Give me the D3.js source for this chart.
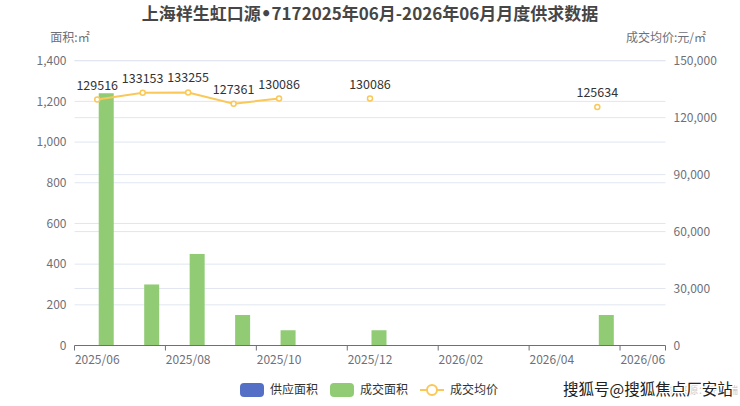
<!DOCTYPE html>
<html>
<head>
<meta charset="utf-8">
<script src="https://cdn.jsdelivr.net/npm/d3@7/dist/d3.min.js"></script>
<style>
  body { margin: 0; background: #fff; }
  text { font-family: "Noto Sans CJK SC", "Noto Sans", sans-serif; }
</style>
</head>
<body>
<div id="chart"></div>
<script>
// 数据
const months = ["2025/06", "2025/07", "2025/08", "2025/09", "2025/10", "2025/11", "2025/12",
                "2026/01", "2026/02", "2026/03", "2026/04", "2026/05", "2026/06"];
const supplyArea = [0, 0, 0, 0, 0, 0, 0, 0, 0, 0, 0, 0, 0];
const dealArea = [1240, 300, 450, 150, 75, 0, 75, 0, 0, 0, 0, 150, 0];
const avgPrice = [129516, 133153, 133255, 127361, 130086, null, 130086, null, null, null, null, 125634, null];
const leftTicks = [0, 200, 400, 600, 800, 1000, 1200, 1400];
const rightTicks = [0, 30000, 60000, 90000, 120000, 150000];
const seriesNames = ["供应面积", "成交面积", "成交均价"];

const W = 740, H = 406;
const plot = {left: 74.5, right: 665.5, top: 60.7, bottom: 345.5};

const svg = d3.select("#chart").append("svg")
    .attr("width", W).attr("height", H);

// 标题
const title = svg.append("text")
    .attr("x", W / 2).attr("y", 20)
    .attr("text-anchor", "middle")
    .style("font-size", "17px").style("font-weight", "bold")
    .attr("fill", "#464646");
title.append("tspan").text("上海祥生虹口源");
title.append("tspan").style("font-family", "DejaVu Sans").text("•");
title.append("tspan").text("7172025年06月-2026年06月月度供求数据");

// 比例尺
const x = d3.scaleBand().domain(months).range([plot.left, plot.right]);
const xInner = d3.scaleBand().domain(["供应面积", "成交面积"])
    .range([0, x.bandwidth()]).paddingInner(1 / 6).paddingOuter(0.346);
const yL = d3.scaleLinear().domain([0, 1400]).range([plot.bottom, plot.top]);
const yR = d3.scaleLinear().domain([0, 150000]).range([plot.bottom, plot.top]);

// 网格线
const grid = svg.append("g");
grid.selectAll(".gl").data(leftTicks.slice(1)).join("line")
    .attr("x1", plot.left).attr("x2", plot.right)
    .attr("y1", d => yL(d)).attr("y2", d => yL(d))
    .attr("stroke", "#e0e6f1");
grid.selectAll(".gr").data(rightTicks.slice(1)).join("line")
    .attr("x1", plot.left).attr("x2", plot.right)
    .attr("y1", d => yR(d)).attr("y2", d => yR(d))
    .attr("stroke", "#e0e6f1");

// 左轴
const fmt = d3.format(",");
svg.append("g").selectAll("text").data(leftTicks).join("text")
    .attr("x", plot.left - 8).attr("y", d => yL(d))
    .attr("dy", "0.35em").attr("text-anchor", "end")
    .attr("fill", "#6e7079").style("font-size", "12px")
    .text(d => fmt(d));
// 右轴
svg.append("g").selectAll("text").data(rightTicks).join("text")
    .attr("x", plot.right + 8).attr("y", d => yR(d))
    .attr("dy", "0.35em").attr("text-anchor", "start")
    .attr("fill", "#6e7079").style("font-size", "12px")
    .text(d => fmt(d));

// 轴名称
svg.append("text").attr("x", 70).attr("y", 42)
    .attr("text-anchor", "middle").attr("fill", "#6e7079")
    .style("font-size", "12px").text("面积:㎡");
svg.append("text").attr("x", 666).attr("y", 42)
    .attr("text-anchor", "middle").attr("fill", "#6e7079")
    .style("font-size", "12px").text("成交均价:元/㎡");

// 柱子
const bars = svg.append("g");
bars.selectAll(".supply").data(months).join("rect")
    .attr("x", d => x(d) + xInner("供应面积"))
    .attr("width", xInner.bandwidth())
    .attr("y", (d, i) => yL(supplyArea[i]))
    .attr("height", (d, i) => plot.bottom - yL(supplyArea[i]))
    .attr("fill", "#5470c6");
bars.selectAll(".deal").data(months).join("rect")
    .attr("x", d => x(d) + xInner("成交面积"))
    .attr("width", xInner.bandwidth())
    .attr("y", (d, i) => yL(dealArea[i]))
    .attr("height", (d, i) => plot.bottom - yL(dealArea[i]))
    .attr("fill", "#91cc75");

// X轴
const xg = svg.append("g");
xg.append("line").attr("x1", plot.left).attr("x2", plot.right)
    .attr("y1", plot.bottom).attr("y2", plot.bottom).attr("stroke", "#6e7079");
const tickIdx = months.map((d, i) => i).filter(i => i % 2 === 0);
xg.selectAll(".tk").data(tickIdx).join("line")
    .attr("x1", i => x(months[i])).attr("x2", i => x(months[i]))
    .attr("y1", plot.bottom).attr("y2", plot.bottom + 5).attr("stroke", "#6e7079");
xg.append("line").attr("x1", plot.right).attr("x2", plot.right)
    .attr("y1", plot.bottom).attr("y2", plot.bottom + 5).attr("stroke", "#6e7079");
xg.selectAll(".lb").data(tickIdx).join("text")
    .attr("x", i => x(months[i]) + x.bandwidth() / 2)
    .attr("y", plot.bottom + 18)
    .attr("text-anchor", "middle").attr("fill", "#6e7079")
    .style("font-size", "12px")
    .text(i => months[i]);

// 均价折线
const pts = months.map((m, i) => ({m, v: avgPrice[i]}));
const line = d3.line()
    .defined(d => d.v != null)
    .x(d => x(d.m) + x.bandwidth() / 2)
    .y(d => yR(d.v));
svg.append("path").datum(pts)
    .attr("d", line).attr("fill", "none")
    .attr("stroke", "#fac858").attr("stroke-width", 2);
const valid = pts.filter(d => d.v != null);
svg.append("g").selectAll("circle").data(valid).join("circle")
    .attr("cx", d => x(d.m) + x.bandwidth() / 2)
    .attr("cy", d => yR(d.v))
    .attr("r", 2.5)
    .attr("fill", "#fff").attr("stroke", "#fac858").attr("stroke-width", 1.5);
svg.append("g").selectAll("text").data(valid).join("text")
    .attr("x", d => x(d.m) + x.bandwidth() / 2)
    .attr("y", d => yR(d.v) - 10)
    .attr("text-anchor", "middle").attr("fill", "#333")
    .style("font-size", "12.5px")
    .text(d => d.v);

// 图例
const legend = svg.append("g").attr("transform", "translate(0,390)");
const lx = [240, 330, 420];
const lcol = ["#5470c6", "#91cc75", "#fac858"];
seriesNames.forEach((name, i) => {
    const g = legend.append("g").attr("transform", `translate(${lx[i]},0)`);
    if (i < 2) {
        g.append("rect").attr("x", 0).attr("y", -7).attr("width", 24).attr("height", 14)
            .attr("rx", 4).attr("fill", lcol[i]);
    } else {
        g.append("line").attr("x1", 0).attr("x2", 24).attr("y1", 0).attr("y2", 0)
            .attr("stroke", lcol[i]).attr("stroke-width", 2);
        g.append("circle").attr("cx", 12).attr("cy", 0).attr("r", 5)
            .attr("fill", "#fff").attr("stroke", lcol[i]).attr("stroke-width", 2);
    }
    g.append("text").attr("x", 30).attr("y", 0).attr("dy", "0.35em")
        .attr("fill", "#333").style("font-size", "12px").text(name);
});

// 水印
svg.append("text").attr("x", 738).attr("y", 390).attr("dy", "0.35em")
    .attr("text-anchor", "end").attr("fill", "#ccc")
    .style("font-size", "10px").text("数据来源：克而瑞");
svg.append("text").attr("x", 563).attr("y", 390).attr("dy", "0.35em")
    .attr("fill", "#222").attr("stroke", "#fff").attr("stroke-width", 2.5)
    .attr("paint-order", "stroke")
    .style("font-size", "15.5px").text("搜狐号@搜狐焦点厂安站");
</script>
</body>
</html>
